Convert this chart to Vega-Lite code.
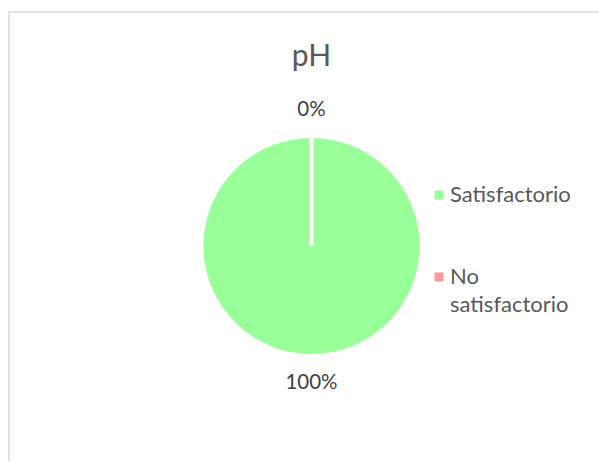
{
  "$schema": "https://vega.github.io/schema/vega-lite/v6.json",
  "autosize": "none",
  "width": 605,
  "height": 468,
  "padding": {"left": 9, "top": 12, "right": 0, "bottom": 0},
  "background": "white",
  "view": {"stroke": "#d9d9d9", "strokeWidth": 1.5, "fill": "white"},
  "config": {"style": {"guide-label": {"lineHeight": 28}}},
  "title": {"text": "pH", "font": "Lato", "fontSize": 30, "fontWeight": "normal", "color": "#595959", "anchor": "middle", "baseline": "alphabetic", "offset": -84},
  "data": {"values": [
    {"categoria": "Satisfactorio", "valor": 100, "etiqueta": "100%", "orden": 1},
    {"categoria": "No satisfactorio", "valor": 0, "etiqueta": "0%", "orden": 2}
  ]},
  "encoding": {
    "theta": {"field": "valor", "type": "quantitative", "stack": true},
    "order": {"field": "orden", "type": "quantitative"},
    "color": {
      "field": "categoria", "type": "nominal",
      "scale": {"domain": ["Satisfactorio", "No satisfactorio"], "range": ["#99FF99", "#FF9999"]},
      "legend": {
        "orient": "none", "legendX": 419, "legendY": 172, "title": null,
        "symbolType": "square", "symbolSize": 81, "symbolStrokeWidth": 0,
        "labelFont": "Lato", "labelFontSize": 22, "labelColor": "#595959",
        "labelLimit": 300, "labelOffset": 0, "rowPadding": 60, "labelBaseline": "middle",
        "labelExpr": "datum.label == 'No satisfactorio' ? ['No', 'satisfactorio'] : datum.label",
        "encode": {"labels": {"update": {"lineHeight": {"value": 28}, "dy": {"signal": "datum.value == 'No satisfactorio' ? 14 : 0"}}}}
      }
    }
  },
  "layer": [
    {"mark": {"type": "arc", "outerRadius": 110, "stroke": "white", "strokeWidth": 4}},
    {"mark": {"type": "text", "radius": 136.5, "font": "Lato", "fontSize": 20.5, "align": "center", "baseline": "middle"},
     "encoding": {"text": {"field": "etiqueta"}, "color": {"value": "#404040"}}}
  ]
}
